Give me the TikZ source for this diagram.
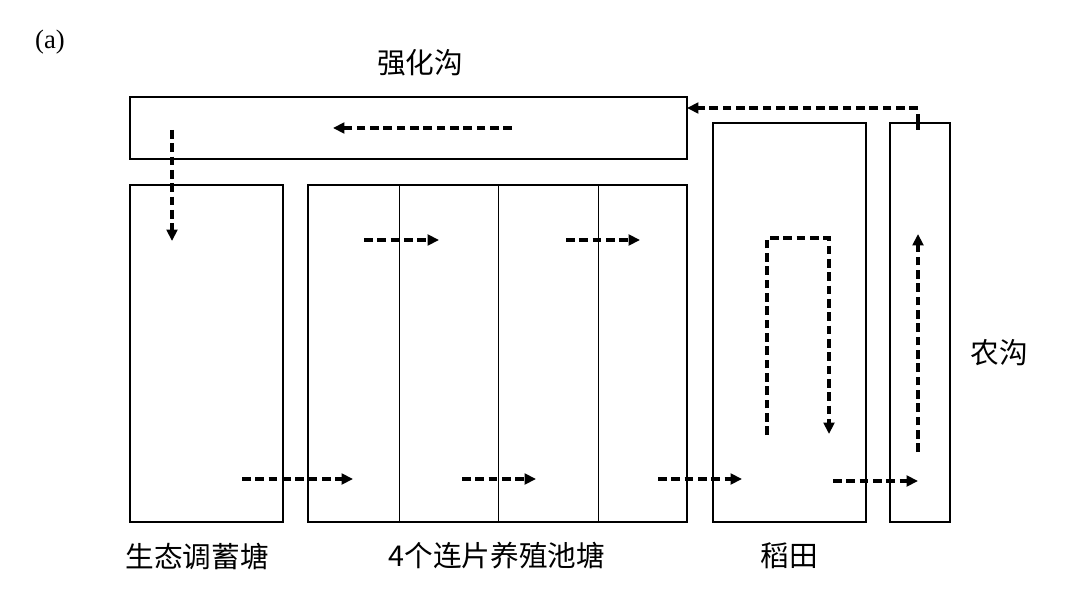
\documentclass[tikz,border=0pt]{standalone}
\usepackage{fontspec}
\setmainfont{Liberation Serif}
\newfontfamily\cjk{Noto Sans CJK SC}
\usetikzlibrary{arrows.meta}
\begin{document}
\begin{tikzpicture}[x=0.75pt,y=-0.75pt,
  box/.style={draw,line width=1.5pt,inner sep=0,outer sep=0,anchor=north west},
  divider/.style={line width=0.6pt},
  flow/.style={line width=2.4pt,dash pattern=on 6.5pt off 3.5pt,-{Triangle[length=8.5pt,width=8pt]}},
  lbl/.style={font=\cjk\fontsize{21.5pt}{24pt}\selectfont,inner sep=0}]
\useasboundingbox[fill=white] (0,0) rectangle (1080,616);
% boxes
\node[box,minimum width=557*0.75pt,minimum height=62*0.75pt] (qhg) at (130,97) {};
\node[box,minimum width=153*0.75pt,minimum height=337*0.75pt] (stt) at (130,185) {};
\node[box,minimum width=379*0.75pt,minimum height=337*0.75pt] (yzc) at (308,185) {};
\node[box,minimum width=153*0.75pt,minimum height=399*0.75pt] (dt) at (713,123) {};
\node[box,minimum width=60*0.75pt,minimum height=399*0.75pt] (ng) at (890,123) {};
% pond dividers
\foreach \xx in {399,498,598} \draw[divider] (\xx,185) -- (\xx,522);
% labels
\node[font=\fontsize{20pt}{23pt}\selectfont,inner sep=0] (a) at (50,42) {(a)};
\node[lbl] (l1) at (420,63) {强化沟};
\node[lbl] (l2) at (999,353) {农沟};
\node[lbl] (l3) at (197,556) {生态调蓄塘};
\node[lbl] (l4) at (497,556) {{\fontsize{21.5pt}{24pt}\selectfont 4}个连片养殖池塘};
\node[lbl] (l5) at (789,556) {稻田};
% flows
\draw[line width=3.2pt] (918,114) -- (918,130);
\draw[flow] (918,108) -- (qhg.east |- 0,108);
\draw[flow] (512,128) -- (333,128);
\draw[flow] (172,130) -- (172,241);
\draw[flow] (364,240) -- (439,240);
\draw[flow] (566,240) -- (640,240);
\draw[flow] (242,479) -- (353,479);
\draw[flow] (462,479) -- (536,479);
\draw[flow] (658,479) -- (742,479);
\draw[flow] (833,481) -- (918,481);
\draw[flow] (767,435) -- (767,238) -- (829,238) -- (829,434);
\draw[flow] (918,452) -- (918,234);
\end{tikzpicture}
\end{document}
